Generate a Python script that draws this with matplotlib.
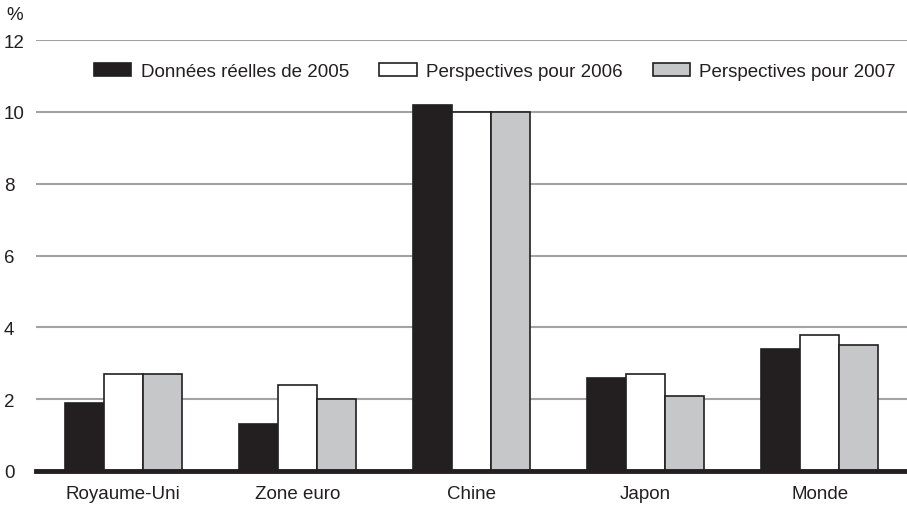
import numpy as np
import matplotlib.pyplot as plt
from matplotlib.patches import Patch

plt.rcParams['font.family'] = ['Liberation Sans', 'DejaVu Sans']

#---Data
regions = ["Royaume-Uni", "Zone euro", "Chine", "Japon", "Monde"]
actual_2005 = [1.9, 1.3, 10.2, 2.6, 3.4]
outlook_2006 = [2.7, 2.4, 10.0, 2.7, 3.8]
outlook_2007 = [2.7, 2.0, 10.0, 2.1, 3.5]
series_names = ["Données réelles de 2005", "Perspectives pour 2006", "Perspectives pour 2007"]
yticks = [0, 2, 4, 6, 8, 10, 12]

dark = "#231f20"
colors = [dark, "#ffffff", "#c6c7c8"]
fs = 13.5

fig = plt.figure(figsize=(9.07, 5.06), dpi=100)
ax = fig.add_axes([36/907, 1 - 472/506, 1 - 36/907, 431/506])

x = np.arange(len(regions))
w = 0.224
for i, vals in enumerate([actual_2005, outlook_2006, outlook_2007]):
    ax.bar(x + (i - 1) * w, vals, w, color=colors[i], edgecolor=dark,
           linewidth=1.2, zorder=3)

ax.set_xlim(-0.5, len(regions) - 0.5)
ax.set_ylim(0, 12)
ax.set_yticks(yticks)
ax.set_yticklabels([str(t) for t in yticks])
ax.yaxis.grid(True, color="#a3a3a3", linewidth=1.5, zorder=0)
ax.set_axisbelow(True)
ax.axhline(0, color=dark, linewidth=3.5, zorder=4, clip_on=False)
for s in ax.spines.values():
    s.set_visible(False)

ax.set_xticks(x)
ax.set_xticklabels(regions)
ax.tick_params(axis="both", length=0, labelsize=fs, colors=dark)
ax.tick_params(axis="x", pad=10)
ax.tick_params(axis="y", pad=23)
for lab in ax.get_yticklabels():
    lab.set_horizontalalignment("left")

fig.text(6/907, 1 - 15/506, "%", fontsize=fs, color=dark, va="center", ha="left")

handles = [Patch(facecolor=c, edgecolor=dark, linewidth=1.2) for c in colors]
ax.legend(handles, series_names, loc="center", bbox_to_anchor=(0.527, 0.926),
          ncol=3, frameon=False, fontsize=fs, handlelength=2.0,
          handleheight=0.7, handletextpad=0.5, columnspacing=1.6,
          labelcolor=dark)

fig.savefig("out.png", dpi=100)
